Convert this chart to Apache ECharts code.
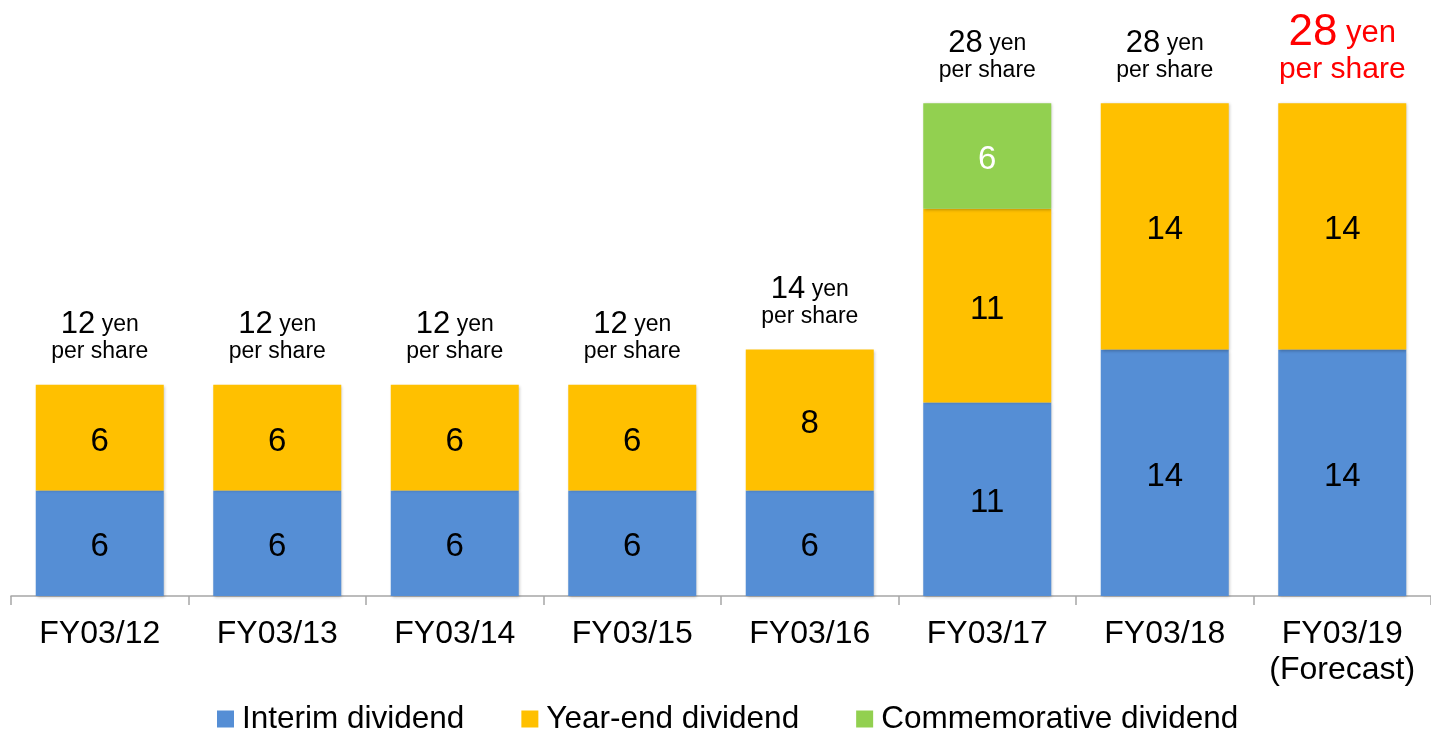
<!DOCTYPE html>
<html>
<head>
<meta charset="utf-8">
<script src="https://cdn.jsdelivr.net/npm/echarts@6/dist/echarts.min.js"></script>
<style>
html,body{margin:0;padding:0;background:#fff;}
#chart{width:1431px;height:729px;}
</style>
</head>
<body>
<div id="chart"></div>
<script>
const categories = ['FY03/12','FY03/13','FY03/14','FY03/15','FY03/16','FY03/17','FY03/18','FY03/19\n(Forecast)'];
const interim = [6,6,6,6,6,11,14,14];
const yearEnd = [6,6,6,6,8,11,14,14];
const commemorative = [null,null,null,null,null,6,null,null];
const totals = [12,12,12,12,14,28,28,28];
const forecastIndex = 7;

const FONT = '"Liberation Sans", Arial, sans-serif';
const chart = echarts.init(document.getElementById('chart'));

const barShadow = {shadowColor:'rgba(0,0,0,0.25)', shadowBlur:3, shadowOffsetX:1, shadowOffsetY:1};
const innerLabel = (color)=>({show:true, position:'inside', offset:[0,4], fontSize:33, color:color, fontFamily:FONT});

const totalData = totals.map((v,i)=>{
  if(i===forecastIndex){
    return {value:v, label:{
      distance:17, color:'#FF0000',
      formatter:'{num|'+v+'}{yen| yen}\n{ps|per share}',
      rich:{
        num:{fontSize:44,lineHeight:42,color:'#FF0000',fontFamily:FONT},
        yen:{fontSize:31,lineHeight:42,color:'#FF0000',fontFamily:FONT},
        ps:{fontSize:30,lineHeight:32,color:'#FF0000',fontFamily:FONT}
      }
    }};
  }
  return v;
});

chart.setOption({
  animation:false,
  textStyle:{fontFamily:FONT},
  grid:{left:11, width:1424, top:68, bottom:133, containLabel:false},
  legend:{
    data:['Interim dividend','Year-end dividend','Commemorative dividend'],
    top:698, left:212,
    icon:'rect', itemWidth:17, itemHeight:17, itemGap:57,
    textStyle:{fontSize:31.5, color:'#000', fontFamily:FONT, padding:[0,0,0,3]}
  },
  xAxis:{
    type:'category', data:categories,
    axisLine:{lineStyle:{color:'#A6A6A6', width:1.5}},
    axisTick:{show:true, length:9, lineStyle:{color:'#A6A6A6', width:1.5}},
    axisLabel:{fontSize:32, color:'#000', lineHeight:36, margin:20, fontFamily:FONT, interval:0}
  },
  yAxis:{type:'value', min:0, max:30, show:false, splitLine:{show:false}},
  series:[
    {name:'Interim dividend', type:'bar', stack:'d', barWidth:128, data:interim,
     itemStyle:Object.assign({color:'#558ED5'}, barShadow), label:innerLabel('#000')},
    {name:'Year-end dividend', type:'bar', stack:'d', barWidth:128, data:yearEnd,
     itemStyle:Object.assign({color:'#FFC000'}, barShadow), label:innerLabel('#000')},
    {name:'Commemorative dividend', type:'bar', stack:'d', barWidth:128, data:commemorative,
     itemStyle:Object.assign({color:'#92D050'}, barShadow), label:innerLabel('#fff')},
    {name:'Total', type:'scatter', data:totalData, symbolSize:0, silent:true,
     itemStyle:{opacity:1},
     label:{show:true, position:'top', distance:20, color:'#000', opacity:1,
       textBorderWidth:0,
       formatter:(p)=>'{num|'+p.value+'}{yen| yen}\n{ps|per share}',
       rich:{
         num:{fontSize:31,lineHeight:28,color:'#000',fontFamily:FONT},
         yen:{fontSize:23,lineHeight:28,color:'#000',fontFamily:FONT},
         ps:{fontSize:23,lineHeight:26,color:'#000',fontFamily:FONT}
       }}}
  ]
});
</script>
</body>
</html>
